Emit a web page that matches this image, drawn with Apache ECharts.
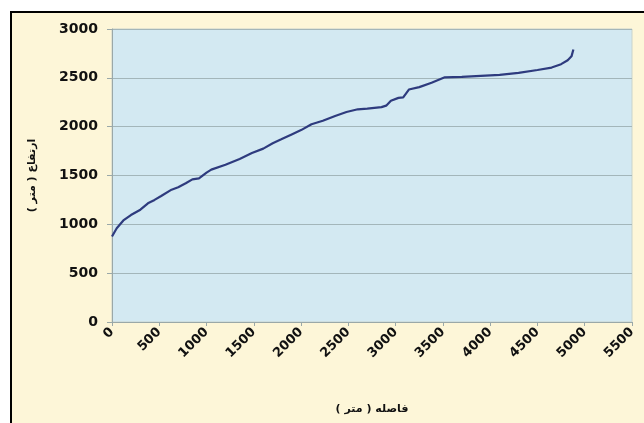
<!DOCTYPE html>
<html>
<head>
<meta charset="utf-8">
<script src="https://cdn.jsdelivr.net/npm/echarts@6/dist/echarts.min.js"></script>
<style>
html,body{margin:0;padding:0;background:#ffffff;}
#c{width:644px;height:423px;}
</style>
</head>
<body>
<div id="c"></div>
<script>
var distances = [0, 50, 120, 200, 300, 380, 450, 520, 630, 700, 780, 850, 920, 1000, 1050, 1200, 1350, 1480, 1600, 1700, 1790, 1900, 2000, 2110, 2230, 2360, 2480, 2600, 2700, 2850, 2900, 2950, 3030, 3080, 3140, 3250, 3380, 3520, 3700, 3900, 4100, 4300, 4500, 4650, 4750, 4820, 4860, 4875, 4880];
var elevations = [875, 960, 1040, 1095, 1150, 1215, 1250, 1290, 1355, 1380, 1420, 1460, 1470, 1530, 1560, 1610, 1670, 1730, 1775, 1830, 1870, 1920, 1965, 2025, 2060, 2110, 2150, 2178, 2185, 2200, 2215, 2265, 2295, 2300, 2380, 2405, 2450, 2505, 2510, 2520, 2530, 2550, 2580, 2605, 2640, 2680, 2720, 2740, 2790];
var xTitle = 'فاصله ( متر )';
var yTitle = 'ارتفاع ( متر )';

var data = distances.map(function (d, i) { return [d, elevations[i]]; });
var chart = echarts.init(document.getElementById('c'));
function fmt(v) { return String(v); }
chart.setOption({
  backgroundColor: '#ffffff',
  animation: false,
  graphic: [{
    type: 'rect', z: -10, silent: true,
    shape: {x: 11, y: 12, width: 700, height: 500},
    style: {fill: '#fdf6d8', stroke: '#000', lineWidth: 2}
  }],
  grid: {left: 112, right: 12, top: 29, bottom: 101, show: true,
    backgroundColor: '#d3e9f2', borderColor: '#c9d3cc', borderWidth: 1},
  xAxis: {
    type: 'value', min: 0, max: 5500, interval: 500,
    name: xTitle, nameLocation: 'middle', nameGap: 82,
    nameTextStyle: {color: '#111', fontWeight: 'bold', fontFamily: 'DejaVu Sans', fontSize: 11},
    axisLine: {show: true, lineStyle: {color: '#9aa8a8', width: 1}},
    axisTick: {show: true, length: 4, lineStyle: {color: '#9aa8a8'}},
    axisLabel: {rotate: 45, margin: 8, color: '#111', fontWeight: 'bold', fontFamily: 'DejaVu Sans', fontSize: 13, formatter: fmt},
    splitLine: {show: false}
  },
  yAxis: {
    type: 'value', min: 0, max: 3000, interval: 500,
    name: yTitle, nameLocation: 'middle', nameGap: 74, nameRotate: 90,
    nameTextStyle: {color: '#111', fontWeight: 'bold', fontFamily: 'DejaVu Sans', fontSize: 11},
    axisLine: {show: true, lineStyle: {color: '#9aa8a8', width: 1}},
    axisTick: {show: true, length: 5, lineStyle: {color: '#9aa8a8'}},
    axisLabel: {margin: 14, color: '#111', fontWeight: 'bold', fontFamily: 'DejaVu Sans', fontSize: 14, formatter: fmt},
    splitLine: {show: true, lineStyle: {color: '#a3b6ba', width: 1}}
  },
  series: [{
    type: 'line', data: data, showSymbol: false, smooth: false,
    lineStyle: {color: '#2e3b7e', width: 2.2}
  }]
});
</script>
</body>
</html>
